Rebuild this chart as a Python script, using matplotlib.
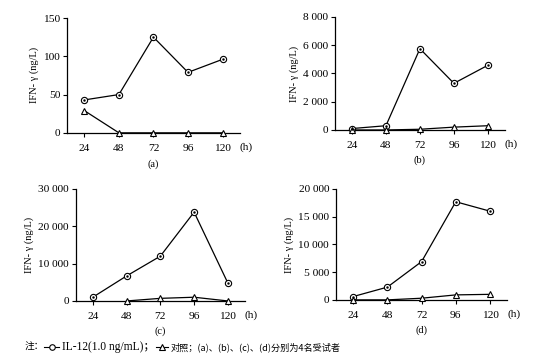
import numpy as np
import matplotlib.pyplot as plt
from matplotlib.lines import Line2D

plt.rcParams['font.family'] = ['Liberation Serif', 'Noto Sans CJK SC']
plt.rcParams['font.size'] = 8.2

hours = [24, 48, 72, 96, 120]

# IL-12 组 (圆) 与 对照 (三角)
il12_a = [43, 50, 125, 79, 96]
ctrl_a = [29, 0, 0, 0, 0]
il12_b = [100, 300, 5750, 3300, 4580]
ctrl_b = [0, 0, 50, 200, 300]
il12_c = [1000, 6700, 12000, 23800, 4800]
ctrl_c = [np.nan, 0, 700, 1000, 0]
il12_d = [600, 2300, 6900, 17700, 16000]
ctrl_d = [0, 0, 300, 900, 1000]

panels = [
    ('(a)', il12_a, ctrl_a, [0, 50, 100, 150], ['0', '50', '100', '150'],
     [0.122, 0.631, 0.314, 0.319]),
    ('(b)', il12_b, ctrl_b, [0, 2000, 4000, 6000, 8000],
     ['0', '2 000', '4 000', '6 000', '8 000'],
     [0.609, 0.639, 0.309, 0.314]),
    ('(c)', il12_c, ctrl_c, [0, 10000, 20000, 30000],
     ['0', '10 000', '20 000', '30 000'],
     [0.138, 0.164, 0.307, 0.311]),
    ('(d)', il12_d, ctrl_d, [0, 5000, 10000, 15000, 20000],
     ['0', '5 000', '10 000', '15 000', '20 000'],
     [0.611, 0.167, 0.311, 0.308]),
]

fig = plt.figure(figsize=(5.5, 3.6), dpi=100)

for name, il12, ctrl, yt, ytl, pos in panels:
    ax = fig.add_axes(pos)
    ax.plot(hours, il12, color='black', lw=0.9, marker='o', ms=4.5,
            mfc='white', mec='black', mew=0.8, clip_on=False, zorder=3)
    ax.plot(hours, il12, ls='none', marker='.', ms=1.5, color='black',
            clip_on=False, zorder=4)
    ax.plot(hours, ctrl, color='black', lw=0.9, marker='^', ms=4.5,
            mfc='white', mec='black', mew=0.8, clip_on=False, zorder=3)
    ax.set_xlim(12, 132)
    ax.set_ylim(yt[0], yt[-1])
    ax.set_xticks(hours)
    ax.set_yticks(yt)
    ax.set_yticklabels(ytl)
    ax.spines['top'].set_visible(False)
    ax.spines['right'].set_visible(False)
    ax.spines['left'].set_linewidth(0.9)
    ax.spines['bottom'].set_linewidth(0.9)
    ax.tick_params(direction='out', length=3, width=0.8, pad=2)
    ax.tick_params(axis='x', pad=5)
    ax.set_ylabel('IFN- γ (ng/L)', fontsize=7.5, labelpad=3)
    ax.text(1.0, -0.125, '(h)', transform=ax.transAxes, ha='left', va='center')
    ax.text(0.5, -0.27, name, transform=ax.transAxes, ha='center', va='center',
            fontsize=7.5)

# 图注
y0 = 0.036
fig.text(0.045, y0, '注：', ha='left', va='center', fontsize=7,
         family=['Noto Sans CJK SC', 'DejaVu Sans'])
fig.add_artist(Line2D([0.08, 0.108], [y0, y0], color='black', lw=0.8))
fig.add_artist(Line2D([0.094], [y0], color='black', marker='o', ms=4,
                      mfc='white', mec='black', mew=0.8))
fig.text(0.113, y0, 'IL-12(1.0 ng/mL)；', ha='left', va='center', fontsize=8.3,
         family=['Liberation Serif', 'Noto Sans CJK SC'])
fig.add_artist(Line2D([0.283, 0.305], [y0, y0], color='black', lw=0.8))
fig.add_artist(Line2D([0.294], [y0], color='black', marker='^', ms=4,
                      mfc='white', mec='black', mew=0.8))
fig.text(0.31, y0, '对照；(a)、(b)、(c)、(d)分别为4名受试者', ha='left',
         va='center', fontsize=6.6, family=['Noto Sans CJK SC', 'DejaVu Sans'])

fig.savefig('out.png', dpi=100)
